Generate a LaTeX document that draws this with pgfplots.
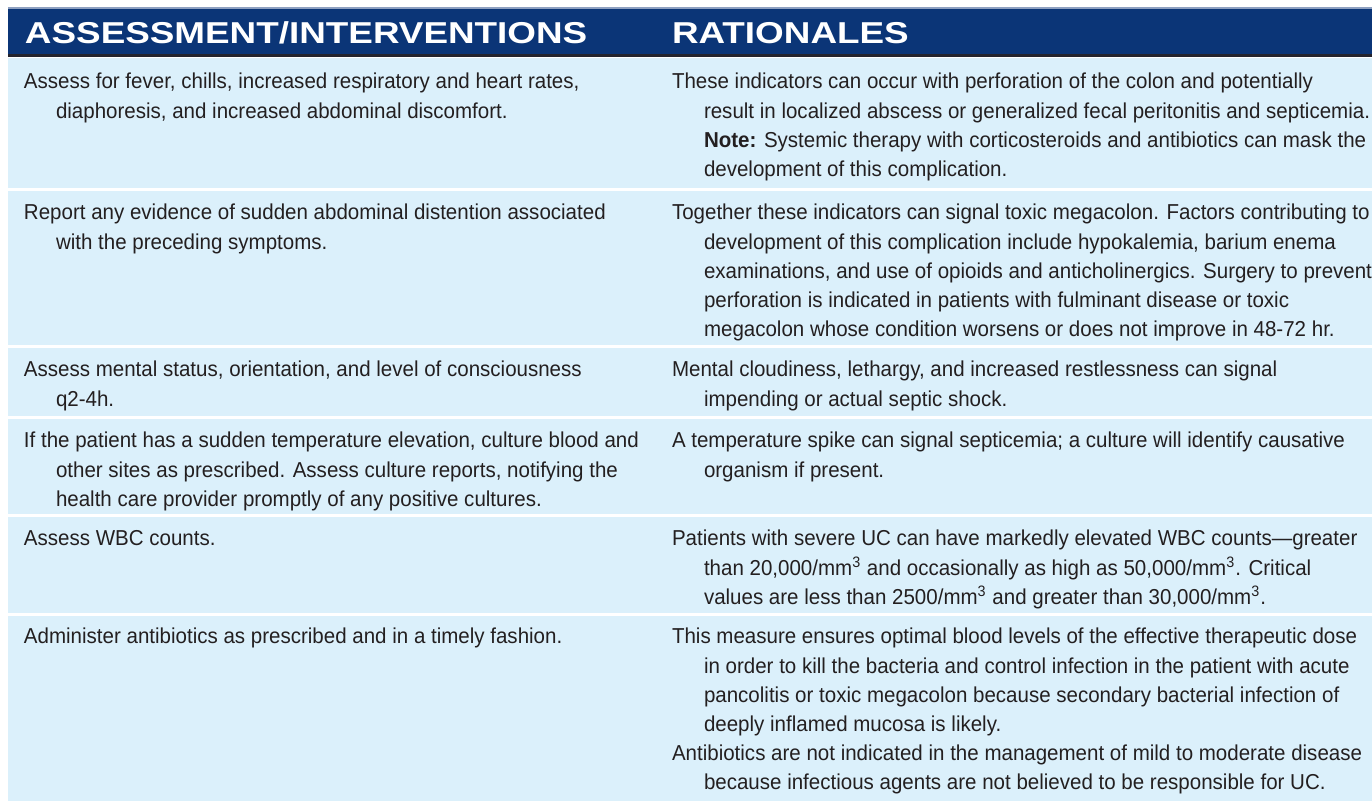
\documentclass[border=0pt]{standalone}
\usepackage{pgfplots}
\pgfplotsset{compat=1.18}
\usepackage{fontspec}
\setmainfont[FakeStretch=0.95]{Liberation Sans}
\newfontfamily\headfont[FakeStretch=1.22]{Liberation Sans}
\definecolor{hdr}{HTML}{0B3577}
\definecolor{hdrline}{HTML}{24242E}
\definecolor{hdrtop}{HTML}{8EA0C0}
\definecolor{rowbg}{HTML}{DBF0FB}
\definecolor{txt}{HTML}{231F20}
\newcommand{\body}{\fontsize{10.8}{14.6}\selectfont}
\newcommand{\sq}{\textsuperscript{3}}
\tikzset{c/.style={anchor=base west,inner sep=0pt,outer sep=0pt,text=txt,font=\body},
         h/.style={anchor=base west,inner sep=0pt,outer sep=0pt,text=white,font=\headfont\bfseries\fontsize{15.1}{18}\selectfont}}
\begin{document}
\begin{tikzpicture}
\begin{axis}[width=686pt,height=400.5pt,scale only axis,
  xmin=0,xmax=1372,ymin=0,ymax=801,y dir=reverse,
  axis lines=none,clip=false]
% header
\addplot[fill=hdr,draw=none] coordinates {(8,8) (1372,8) (1372,54) (8,54)} -- cycle;
\addplot[fill=hdrtop,draw=none] coordinates {(8,7.5) (1372,7.5) (1372,9) (8,9)} -- cycle;
\addplot[fill=hdrline,draw=none] coordinates {(8,54) (1372,54) (1372,57) (8,57)} -- cycle;
% rows
\addplot[fill=rowbg,draw=none] coordinates {(8,58) (1372,58) (1372,188) (8,188)} -- cycle;
\addplot[fill=rowbg,draw=none] coordinates {(8,191) (1372,191) (1372,345) (8,345)} -- cycle;
\addplot[fill=rowbg,draw=none] coordinates {(8,348) (1372,348) (1372,416) (8,416)} -- cycle;
\addplot[fill=rowbg,draw=none] coordinates {(8,419) (1372,419) (1372,514) (8,514)} -- cycle;
\addplot[fill=rowbg,draw=none] coordinates {(8,517) (1372,517) (1372,613) (8,613)} -- cycle;
\addplot[fill=rowbg,draw=none] coordinates {(8,616) (1372,616) (1372,801) (8,801)} -- cycle;
% header text
\node[h] at (axis cs:25,44) {ASSESSMENT/INTERVENTIONS};
\node[h] at (axis cs:672,44) {RATIONALES};
% row 1
\node[c] at (axis cs:24,89) {Assess for fever, chills, increased respiratory and heart rates,};
\node[c] at (axis cs:56,118.2) {diaphoresis, and increased abdominal discomfort.};
\node[c] at (axis cs:672,89) {These indicators can occur with perforation of the colon and potentially};
\node[c] at (axis cs:704,118.2) {result in localized abscess or generalized fecal peritonitis and septicemia.};
\node[c] at (axis cs:704,147.4) {\textbf{Note:} Systemic therapy with corticosteroids and antibiotics can mask the};
\node[c] at (axis cs:704,176.6) {development of this complication.};
% row 2
\node[c] at (axis cs:24,220) {Report any evidence of sudden abdominal distention associated};
\node[c] at (axis cs:56,249.2) {with the preceding symptoms.};
\node[c] at (axis cs:672,220) {Together these indicators can signal toxic megacolon. Factors contributing to};
\node[c] at (axis cs:704,249.2) {development of this complication include hypokalemia, barium enema};
\node[c] at (axis cs:704,278.4) {examinations, and use of opioids and anticholinergics. Surgery to prevent};
\node[c] at (axis cs:704,307.6) {perforation is indicated in patients with fulminant disease or toxic};
\node[c] at (axis cs:704,336.8) {megacolon whose condition worsens or does not improve in 48-72 hr.};
% row 3
\node[c] at (axis cs:24,377) {Assess mental status, orientation, and level of consciousness};
\node[c] at (axis cs:56,406.2) {q2-4h.};
\node[c] at (axis cs:672,377) {Mental cloudiness, lethargy, and increased restlessness can signal};
\node[c] at (axis cs:704,406.2) {impending or actual septic shock.};
% row 4
\node[c] at (axis cs:24,448) {If the patient has a sudden temperature elevation, culture blood and};
\node[c] at (axis cs:56,477.2) {other sites as prescribed. Assess culture reports, notifying the};
\node[c] at (axis cs:56,506.4) {health care provider promptly of any positive cultures.};
\node[c] at (axis cs:672,448) {A temperature spike can signal septicemia; a culture will identify causative};
\node[c] at (axis cs:704,477.2) {organism if present.};
% row 5
\node[c] at (axis cs:24,546) {Assess WBC counts.};
\node[c] at (axis cs:672,546) {Patients with severe UC can have markedly elevated WBC counts---greater};
\node[c] at (axis cs:704,575.2) {than 20,000/mm\sq{} and occasionally as high as 50,000/mm\sq. Critical};
\node[c] at (axis cs:704,604.4) {values are less than 2500/mm\sq{} and greater than 30,000/mm\sq.};
% row 6
\node[c] at (axis cs:24,644) {Administer antibiotics as prescribed and in a timely fashion.};
\node[c] at (axis cs:672,644) {This measure ensures optimal blood levels of the effective therapeutic dose};
\node[c] at (axis cs:704,673.2) {in order to kill the bacteria and control infection in the patient with acute};
\node[c] at (axis cs:704,702.4) {pancolitis or toxic megacolon because secondary bacterial infection of};
\node[c] at (axis cs:704,731.6) {deeply inflamed mucosa is likely.};
\node[c] at (axis cs:672,760.8) {Antibiotics are not indicated in the management of mild to moderate disease};
\node[c] at (axis cs:704,790) {because infectious agents are not believed to be responsible for UC.};
\end{axis}
\pgfresetboundingbox
\path (current axis.south west) rectangle (current axis.north east);
\end{tikzpicture}
\end{document}
